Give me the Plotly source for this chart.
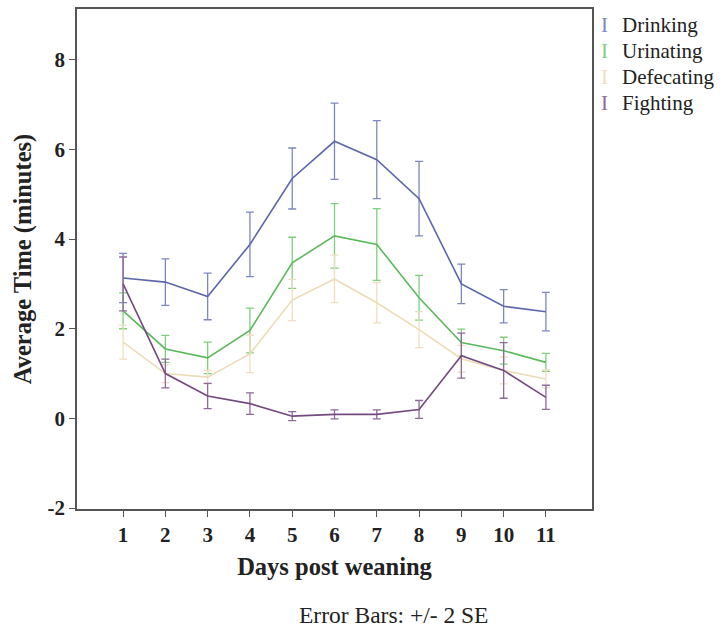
import plotly.graph_objects as go

days = [1, 2, 3, 4, 5, 6, 7, 8, 9, 10, 11]
series_names = ["Drinking", "Urinating", "Defecating", "Fighting"]

drinking = [3.13, 3.04, 2.72, 3.88, 5.35, 6.18, 5.77, 4.90, 3.00, 2.50, 2.38]
drinking_err = [0.55, 0.52, 0.52, 0.72, 0.68, 0.85, 0.87, 0.83, 0.44, 0.37, 0.43]

urinating = [2.40, 1.55, 1.35, 1.96, 3.47, 4.07, 3.88, 2.69, 1.69, 1.51, 1.25]
urinating_err = [0.40, 0.30, 0.35, 0.50, 0.57, 0.72, 0.80, 0.50, 0.30, 0.30, 0.20]

defecating = [1.70, 1.00, 0.92, 1.44, 2.64, 3.11, 2.58, 1.98, 1.33, 1.07, 0.88]
defecating_err = [0.38, 0.20, 0.15, 0.42, 0.46, 0.53, 0.45, 0.40, 0.30, 0.30, 0.20]

fighting = [3.00, 1.00, 0.50, 0.33, 0.05, 0.09, 0.09, 0.20, 1.40, 1.07, 0.47]
fighting_err = [0.60, 0.32, 0.28, 0.24, 0.10, 0.10, 0.10, 0.20, 0.50, 0.62, 0.27]

y_ticks = [-2, 0, 2, 4, 6, 8]

values = [drinking, urinating, defecating, fighting]
errors = [drinking_err, urinating_err, defecating_err, fighting_err]
line_colors = ["#5d66ad", "#5cb85c", "#ecdcb8", "#74497f"]
bar_colors = ["#7f87c0", "#7fcf7f", "#efdfc0", "#8e6a98"]

SERIF = "Liberation Serif, Times New Roman, serif"

fig = go.Figure()
for name, v, e, lc, bc in zip(series_names, values, errors, line_colors, bar_colors):
    fig.add_trace(go.Scatter(
        x=days, y=v, name=name, mode="lines",
        line=dict(color=lc, width=1.6),
        error_y=dict(type="data", array=e, visible=True, color=bc,
                     thickness=1.3, width=4),
        showlegend=False,
    ))

fig.update_layout(
    width=722, height=628,
    margin=dict(l=77, r=130, t=7, b=119),
    paper_bgcolor="white", plot_bgcolor="white",
    font=dict(family=SERIF, color="#222222"),
    xaxis=dict(
        range=[-0.09, 12.09], tickvals=days, ticktext=[str(d) for d in days],
        showgrid=False, zeroline=False,
        showline=True, linecolor="#555555", linewidth=1.5, mirror=True,
        ticks="outside", ticklen=6, tickcolor="#555555",
        tickfont=dict(family=SERIF, size=21, color="#222222", weight="bold"),
        title=dict(text="Days post weaning", standoff=12,
                   font=dict(family=SERIF, size=24.5, color="#222222", weight="bold")),
    ),
    yaxis=dict(
        range=[-2.02, 9.13], tickvals=y_ticks, ticktext=[str(t) for t in y_ticks],
        showgrid=False, zeroline=False,
        showline=True, linecolor="#555555", linewidth=1.5, mirror=True,
        ticks="outside", ticklen=6, tickcolor="#555555",
        tickfont=dict(family=SERIF, size=21, color="#222222", weight="bold"),
        title=dict(text="Average Time (minutes)", standoff=9,
                   font=dict(family=SERIF, size=24.5, color="#222222", weight="bold")),
    ),
)

# legend drawn as error-bar glyph + label
for i, (name, bc) in enumerate(zip(series_names, bar_colors)):
    ypix = 23 + i * 26
    yp = 1 - (ypix - 7) / 502
    fig.add_annotation(xref="paper", yref="paper", x=1.0, y=yp,
                       xshift=12, text="I", showarrow=False, xanchor="center", yanchor="middle",
                       font=dict(family=SERIF, size=21, color=bc))
    fig.add_annotation(xref="paper", yref="paper", x=1.0, y=yp,
                       xshift=28, text=name, showarrow=False, xanchor="left", yanchor="middle",
                       font=dict(family=SERIF, size=21, color="#222222"))

fig.add_annotation(xref="paper", yref="paper", x=(393 - 77) / 515, y=-(615 - 509) / 502,
                   text="Error Bars: +/- 2 SE", showarrow=False, xanchor="center", yanchor="middle",
                   font=dict(family=SERIF, size=23.5, color="#222222"))

fig.write_html("out.html")
